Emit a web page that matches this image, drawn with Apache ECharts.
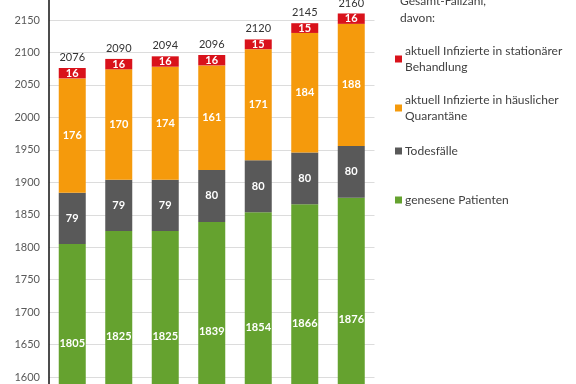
<!DOCTYPE html>
<html>
<head>
<meta charset="utf-8">
<script src="https://cdn.jsdelivr.net/npm/echarts@6/dist/echarts.min.js"></script>
<style>html,body{margin:0;padding:0;background:#fff;}#c{width:576px;height:384px;}</style>
</head>
<body>
<div id="c"></div>
<script>
var categories = ['1', '2', '3', '4', '5', '6', '7'];
var genesen = [1805, 1825, 1825, 1839, 1854, 1866, 1876];
var tod = [79, 79, 79, 80, 80, 80, 80];
var quarantaene = [176, 170, 174, 161, 171, 184, 188];
var stationaer = [16, 16, 16, 16, 15, 15, 16];
var totals = [2076, 2090, 2094, 2096, 2120, 2145, 2160];

var FONT = 'Lato';
var chart = echarts.init(document.getElementById('c'), null, {renderer: 'canvas'});
var inLabel = {show: true, position: 'inside', color: '#fff', fontFamily: FONT, fontSize: 11, fontWeight: 'bold'};
function legendItem(name, top, twoLine) {
  return {
    data: [name], left: 395, top: top, padding: 0, itemWidth: 7, itemHeight: 7, itemGap: 0,
    icon: 'rect', selectedMode: false,
    textStyle: {fontFamily: FONT, fontSize: 12, color: '#404040', lineHeight: 16, padding: twoLine ? [16, 0, 0, -2] : [0, 0, 0, -2]}
  };
}
chart.setOption({
  backgroundColor: '#fff',
  animation: false,
  title: {
    text: 'Gesamt-Fallzahl,\ndavon:', left: 400, top: -7, padding: 0,
    textStyle: {fontFamily: FONT, fontSize: 12, fontWeight: 'normal', color: '#404040', lineHeight: 17}
  },
  legend: [
    legendItem('aktuell Infizierte in stationärer\nBehandlung', 35, true),
    legendItem('aktuell Infizierte in häuslicher\nQuarantäne', 84, true),
    legendItem('Todesfälle', 143, false),
    legendItem('genesene Patienten', 192, false)
  ],
  grid: {left: 49, width: 325.5, top: -12.5, height: 454.5, containLabel: false, outerBoundsMode: 'none'},
  xAxis: {
    type: 'category', data: categories,
    axisLine: {show: false}, axisTick: {show: false}, axisLabel: {show: false}
  },
  yAxis: {
    type: 'value', min: 1500, max: 2200, interval: 50,
    axisLine: {show: true, lineStyle: {color: '#111', width: 1.5}},
    axisTick: {show: false},
    axisLabel: {fontFamily: FONT, fontSize: 11, color: '#595959', margin: 9, formatter: function (v) { return String(v); }},
    splitLine: {lineStyle: {color: '#dcdcdc', width: 1}}
  },
  series: [
    {name: 'genesene Patienten', type: 'bar', stack: 's', barWidth: 27, data: genesen,
     itemStyle: {color: '#65a22f'}, label: inLabel},
    {name: 'Todesfälle', type: 'bar', stack: 's', barWidth: 27, data: tod,
     itemStyle: {color: '#595959'}, label: inLabel},
    {name: 'aktuell Infizierte in häuslicher\nQuarantäne', type: 'bar', stack: 's', barWidth: 27, data: quarantaene,
     itemStyle: {color: '#f59a0c'}, label: inLabel},
    {name: 'aktuell Infizierte in stationärer\nBehandlung', type: 'bar', stack: 's', barWidth: 27, data: stationaer,
     itemStyle: {color: '#d9121b'}, label: inLabel},
    {name: 'Gesamt', type: 'bar', barWidth: 27, barGap: '-100%', data: totals,
     itemStyle: {color: 'rgba(0,0,0,0)'}, silent: true, z: 1,
     label: {show: true, position: 'top', distance: 5, color: '#333', fontFamily: FONT, fontSize: 11}}
  ]
});
</script>
</body>
</html>
